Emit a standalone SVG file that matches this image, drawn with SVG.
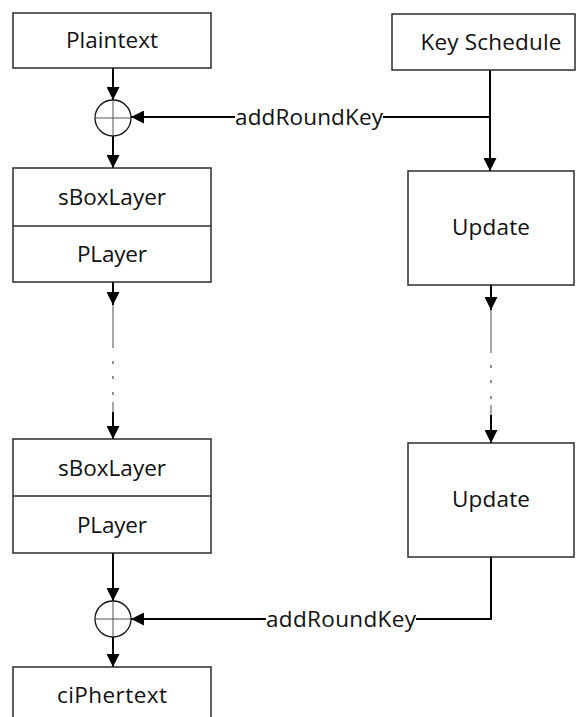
<svg xmlns="http://www.w3.org/2000/svg" width="577" height="717" viewBox="0 0 577 717">
<defs>
<style>
.box{fill:#fff;stroke:#2b2b2b;stroke-width:1.5}
.t{font-family:"Open Sans","Noto Sans","Liberation Sans",sans-serif;font-size:22.5px;fill:#111;text-anchor:middle}
.ln{fill:none;stroke:#000;stroke-width:2}
.gl{fill:none;stroke:#888;stroke-width:1.5}
.xor{fill:#fff;stroke:#111;stroke-width:1.3}
.xl{stroke:#555;stroke-width:1}
.dot{fill:#777}
</style>
<marker id="ah" markerUnits="userSpaceOnUse" markerWidth="13" markerHeight="13" refX="13" refY="6.5" orient="auto">
<path d="M0,0 L13,6.5 L0,13 z" fill="#000"/>
</marker>
</defs>
<rect width="577" height="717" fill="#fff"/>

<g id="connectors">
<line class="ln" x1="113" y1="68" x2="113" y2="100" marker-end="url(#ah)"/>
<line class="ln" x1="113" y1="136" x2="113" y2="168" marker-end="url(#ah)"/>
<polyline class="ln" points="490,70 490,171" marker-end="url(#ah)"/>
<line class="ln" x1="490" y1="117" x2="383" y2="117"/>
<line class="ln" x1="235" y1="117" x2="131" y2="117" marker-end="url(#ah)"/>
<line class="ln" x1="113" y1="282" x2="113" y2="305" marker-end="url(#ah)"/>
<line class="gl" x1="113" y1="305" x2="113" y2="348"/>
<rect class="dot" x="112.2" y="361" width="1.6" height="3"/>
<rect class="dot" x="112.2" y="376" width="1.6" height="3"/>
<rect class="dot" x="112.2" y="392" width="1.6" height="3"/>
<line class="gl" x1="113" y1="402" x2="113" y2="412"/>
<line class="ln" x1="113" y1="412" x2="113" y2="439" marker-end="url(#ah)"/>
<line class="ln" x1="491" y1="285" x2="491" y2="310" marker-end="url(#ah)"/>
<line class="gl" x1="491" y1="310" x2="491" y2="353"/>
<rect class="dot" x="490.2" y="365" width="1.6" height="3"/>
<rect class="dot" x="490.2" y="380" width="1.6" height="3"/>
<rect class="dot" x="490.2" y="396" width="1.6" height="3"/>
<line class="gl" x1="491" y1="405" x2="491" y2="415"/>
<line class="ln" x1="491" y1="415" x2="491" y2="443" marker-end="url(#ah)"/>
<line class="ln" x1="113" y1="553" x2="113" y2="601" marker-end="url(#ah)"/>
<line class="ln" x1="113" y1="637" x2="113" y2="667" marker-end="url(#ah)"/>
<polyline class="ln" points="491,557 491,619 416,619"/>
<line class="ln" x1="266" y1="619" x2="131" y2="619" marker-end="url(#ah)"/>
<text class="t" x="309" y="125" textLength="148" lengthAdjust="spacing">addRoundKey</text>
<text class="t" x="341" y="627" textLength="150" lengthAdjust="spacing">addRoundKey</text>
</g>

<g id="plaintext">
<rect class="box" x="13" y="13" width="198" height="55"/>
<text class="t" x="112" y="48" textLength="92" lengthAdjust="spacing">Plaintext</text>
</g>

<g id="keyschedule">
<rect class="box" x="392" y="14" width="183" height="56"/>
<text class="t" x="491" y="50" textLength="141" lengthAdjust="spacing">Key Schedule</text>
</g>

<g id="xor1">
<circle class="xor" cx="113" cy="118" r="18"/>
<line class="xl" x1="95" y1="118" x2="131" y2="118"/>
<line class="xl" x1="113" y1="100" x2="113" y2="136"/>
</g>

<g id="round1">
<rect class="box" x="13" y="168" width="198" height="114"/>
<line class="box" x1="13" y1="226" x2="211" y2="226"/>
<text class="t" x="112" y="205" textLength="108" lengthAdjust="spacing">sBoxLayer</text>
<text class="t" x="112" y="262" textLength="70" lengthAdjust="spacing">PLayer</text>
</g>

<g id="update1">
<rect class="box" x="408" y="171" width="166" height="114"/>
<text class="t" x="491" y="235" textLength="78" lengthAdjust="spacing">Update</text>
</g>

<g id="round2">
<rect class="box" x="13" y="439" width="198" height="114"/>
<line class="box" x1="13" y1="496" x2="211" y2="496"/>
<text class="t" x="112" y="476" textLength="108" lengthAdjust="spacing">sBoxLayer</text>
<text class="t" x="112" y="533" textLength="70" lengthAdjust="spacing">PLayer</text>
</g>

<g id="update2">
<rect class="box" x="408" y="443" width="166" height="114"/>
<text class="t" x="491" y="507" textLength="78" lengthAdjust="spacing">Update</text>
</g>

<g id="xor2">
<circle class="xor" cx="113" cy="619" r="18"/>
<line class="xl" x1="95" y1="619" x2="131" y2="619"/>
<line class="xl" x1="113" y1="601" x2="113" y2="637"/>
</g>

<g id="ciphertext">
<rect class="box" x="13" y="667" width="198" height="60"/>
<text class="t" x="112" y="703" textLength="110" lengthAdjust="spacing">ciPhertext</text>
</g>
</svg>
